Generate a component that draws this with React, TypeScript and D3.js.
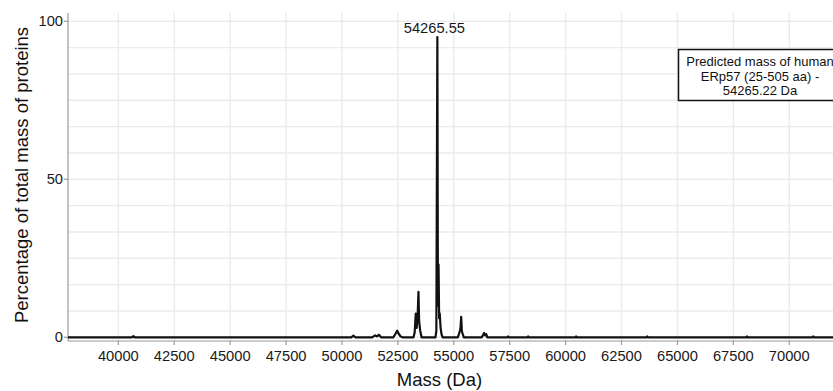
import React from "react";
import * as d3 from "d3";

// Spectrum sample points (mass in Da, percentage of total mass)
const masses: number[] = [
  37750, 40600, 40671, 40740,
  50420, 50510, 50600,
  51350, 51480, 51560, 51650, 51750,
  52300, 52400, 52467, 52530, 52620, 52700,
  53200, 53250, 53300, 53340, 53390, 53420, 53450, 53500, 53560,
  54180, 54220, 54265, 54290, 54318, 54345, 54370, 54410, 54450, 54500,
  55180, 55230, 55270, 55300, 55330, 55360, 55400, 55450,
  56250, 56330, 56357, 56400, 56450, 56500,
  57400, 57430, 57460,
  58300, 58326, 58350,
  60450, 60473, 60500,
  63620, 63650, 63680,
  68080, 68106, 68130,
  71040, 71070, 71100,
  72000,
];
const percents: number[] = [
  0, 0, 0.4, 0,
  0, 0.5, 0,
  0, 0.6, 0.3, 0.8, 0,
  0, 1.2, 2.1, 1.2, 0.3, 0,
  0, 1.5, 7.5, 3, 8, 14.4, 5, 2, 0,
  0, 2, 95, 10, 23, 6, 7.6, 3, 1, 0,
  0, 1, 2, 3, 6.5, 2, 1, 0,
  0, 1, 1.4, 0.6, 1, 0,
  0, 0.3, 0,
  0, 0.3, 0,
  0, 0.3, 0,
  0, 0.3, 0,
  0, 0.3, 0,
  0, 0.3, 0,
  0,
];

const xTicks: number[] = [40000, 42500, 45000, 47500, 50000, 52500, 55000, 57500, 60000, 62500, 65000, 67500, 70000];
const yTicks: number[] = [0, 50, 100];
const yGrid: number[] = [0, 1, 2, 3, 4, 5, 6, 7, 8, 9, 10, 11, 12].map((i) => (i * 100) / 12);

const peakLabel = { mass: 54265.55, text: "54265.55" };
const boxLines: string[] = ["Predicted mass of human", "ERp57 (25-505 aa) -", "54265.22 Da"];
const xTitle = "Mass (Da)";
const yTitle = "Percentage of total mass of proteins";

export default function App() {
  const W = 833;
  const H = 391;
  const left = 68;
  const right = 834;
  const top = 13;
  const bottom = 341;

  const x = d3.scaleLinear().domain([37750, 72000]).range([left, right]);
  const y = d3.scaleLinear().domain([0, 100]).range([337.3, 21.3]);

  const data = masses.map((m, i) => [m, percents[i]] as [number, number]);
  const line = d3
    .line<[number, number]>()
    .x((d) => x(d[0]))
    .y((d) => y(d[1]));

  const font = "'Liberation Sans', Arial, sans-serif";
  const tickColor = "#1a1a1a";
  const gridColor = "#ebebeb";
  const axisColor = "#9a9a9a";

  return (
    <svg
      width={W}
      height={H}
      style={{ position: "absolute", left: 0, top: 0, background: "#fff" }}
      fontFamily={font}
    >
      <rect x={0} y={0} width={W} height={H} fill="#fff" />
      {/* grid */}
      {yGrid.map((v, i) => (
        <line key={"hg" + i} x1={left} x2={right} y1={y(v)} y2={y(v)} stroke={gridColor} strokeWidth={1.4} />
      ))}
      {xTicks.map((v) => (
        <line key={"vg" + v} x1={x(v)} x2={x(v)} y1={top} y2={bottom} stroke={gridColor} strokeWidth={1.4} />
      ))}
      {/* axes */}
      <line x1={left} x2={left} y1={top} y2={bottom} stroke={axisColor} strokeWidth={1.2} />
      <line x1={left} x2={right} y1={bottom} y2={bottom} stroke={axisColor} strokeWidth={1.2} />
      {yTicks.map((v) => (
        <g key={"yt" + v}>
          <line x1={left - 4} x2={left} y1={y(v)} y2={y(v)} stroke={axisColor} strokeWidth={1.2} />
          <text x={left - 5} y={y(v)} dy="0.35em" textAnchor="end" fontSize={14.7} fill={tickColor}>
            {v}
          </text>
        </g>
      ))}
      {xTicks.map((v) => (
        <g key={"xt" + v}>
          <line x1={x(v)} x2={x(v)} y1={bottom} y2={bottom + 4} stroke={axisColor} strokeWidth={1.2} />
          <text x={x(v)} y={361} textAnchor="middle" fontSize={14.7} fill={tickColor}>
            {v}
          </text>
        </g>
      ))}
      {/* data */}
      <path d={line(data) || ""} fill="none" stroke="#111" strokeWidth={2.2} strokeLinejoin="round" />
      {/* peak label */}
      <text x={x(peakLabel.mass) - 3} y={32.5} textAnchor="middle" fontSize={14.7} fill={tickColor}>
        {peakLabel.text}
      </text>
      {/* annotation box */}
      <rect x={678.5} y={49.5} width={164} height={51} fill="#fff" stroke="#111" strokeWidth={1.5} />
      {boxLines.map((t, i) => (
        <text key={"bl" + i} x={760} y={66 + i * 14.7} textAnchor="middle" fontSize={13} fill="#111">
          {t}
        </text>
      ))}
      {/* titles */}
      <text x={439.5} y={386} textAnchor="middle" fontSize={18.5} fill="#111">
        {xTitle}
      </text>
      <text transform="translate(27.5,175) rotate(-90)" textAnchor="middle" fontSize={18.5} fill="#111">
        {yTitle}
      </text>
    </svg>
  );
}
